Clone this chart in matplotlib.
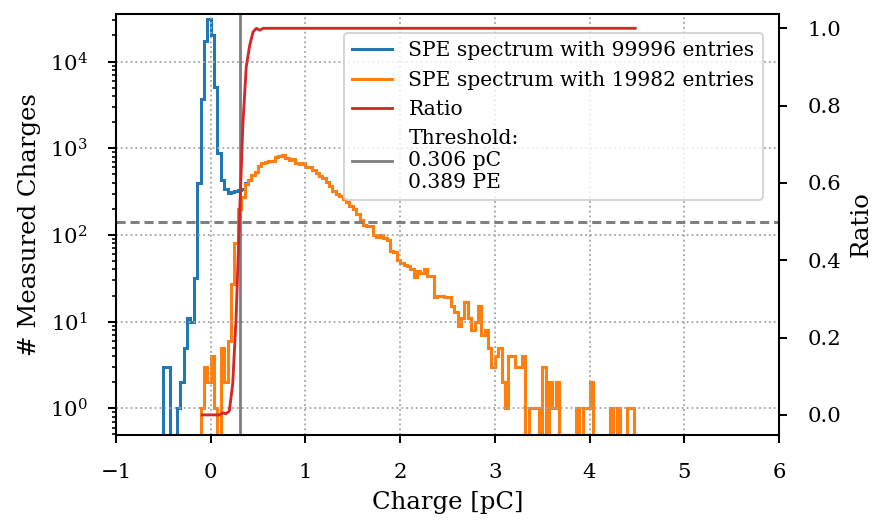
import numpy as np
import matplotlib
matplotlib.use("Agg")
import matplotlib.pyplot as plt

plt.rcParams['font.family'] = 'serif'
plt.rcParams['font.serif'] = ['DejaVu Serif']
plt.rcParams['mathtext.fontset'] = 'dejavuserif'

# histogram binning: 140 bins between -0.5 and 4.5 pC
bin_edges = np.linspace(-0.5, 4.5, 141)

# blue spectrum below threshold region (bins 0..24), above it equals the orange one
blue_low = [3, 3, 0, 0, 1, 2, 5, 11, 10, 32,
            395, 3675, 17400, 31000, 20300, 5140, 890, 430, 336, 305,
            315, 322, 330, 335, 400]

orange_counts = [0, 0, 0, 0, 0, 0, 0, 0, 0, 0,
                 0, 1, 3, 2, 4, 1, 0, 5, 2, 6,
                 27, 81, 199, 276, 385, 432, 492, 536, 625, 675,
                 700, 718, 715, 800, 815, 842, 765, 730, 760, 680,
                 650, 675, 613, 600, 560, 515, 480, 450, 410, 370,
                 325, 295, 278, 262, 240, 215, 197, 175, 150, 130,
                 127, 127, 100, 95, 100, 91, 88, 65, 64, 51,
                 47, 45, 44, 40, 33, 38, 36, 41, 34, 34,
                 19, 20, 20, 19, 19, 15, 13, 9, 11, 17,
                 11, 8, 10, 15, 7, 8, 5, 3, 4, 5,
                 2, 1, 4, 4, 3, 3, 4, 0, 1, 1,
                 1, 0, 3, 0, 2, 1, 2, 0, 0, 0,
                 0, 0, 1, 0, 1, 1, 2, 0, 0, 0,
                 0, 0, 1, 0, 1, 0, 0, 1, 1, 0]

# ratio curve, starting at bin 11
ratio_values = [0.0, 0.0, 0.0, 0.0, 0.0, 0.0, 0.005, 0.003, 0.01, 0.08,
                0.25, 0.51, 0.75, 0.90, 0.955, 0.99, 1.0, 0.995, 1.0, 1.0,
                1.0, 1.0, 1.0, 1.0, 1.0, 1.0, 1.0, 1.0, 1.0, 1.0,
                1.0, 1.0, 1.0, 1.0, 1.0, 1.0, 1.0, 1.0, 1.0, 1.0,
                1.0, 1.0, 1.0, 1.0, 1.0, 1.0, 1.0, 1.0, 1.0, 1.0,
                1.0, 1.0, 1.0, 1.0, 1.0, 1.0, 1.0, 1.0, 1.0, 1.0,
                1.0, 1.0, 1.0, 1.0, 1.0, 1.0, 1.0, 1.0, 1.0, 1.0,
                1.0, 1.0, 1.0, 1.0, 1.0, 1.0, 1.0, 1.0, 1.0, 1.0,
                1.0, 1.0, 1.0, 1.0, 1.0, 1.0, 1.0, 1.0, 1.0, 1.0,
                1.0, 1.0, 1.0, 1.0, 1.0, 1.0, 1.0, 1.0, 1.0, 1.0,
                1.0, 1.0, 1.0, 1.0, 1.0, 1.0, 1.0, 1.0, 1.0, 1.0,
                1.0, 1.0, 1.0, 1.0, 1.0, 1.0, 1.0, 1.0, 1.0, 1.0,
                1.0, 1.0, 1.0, 1.0, 1.0, 1.0, 1.0, 1.0, 1.0]
ratio_start_bin = 11

threshold_pc = 0.306
threshold_pe = 0.389
n_blue = 99996
n_orange = 19982

blue_counts = np.array(orange_counts, dtype=float)
blue_counts[:len(blue_low)] = blue_low
orange_counts = np.array(orange_counts, dtype=float)
bin_centers = 0.5 * (bin_edges[1:] + bin_edges[:-1])

dpi = 146
fig = plt.figure(figsize=(877 / dpi, 525 / dpi), dpi=dpi)
ax = fig.add_axes([116 / 877, 90 / 525, 663 / 877, 421 / 525])
ax2 = ax.twinx()

h_blue = ax.stairs(blue_counts, bin_edges, color='tab:blue', lw=1.5,
                   label=f"SPE spectrum with {n_blue} entries")
h_orange = ax.stairs(orange_counts, bin_edges, color='tab:orange', lw=1.5,
                     label=f"SPE spectrum with {n_orange} entries")
h_thr = ax.axvline(threshold_pc, color='gray', lw=1.4,
                   label=f"Threshold:\n{threshold_pc:.3f} pC\n{threshold_pe:.3f} PE")
ax.set_yscale('log')
ax.set_xlim(-1, 6)
ax.set_ylim(0.492, 35400)
ax.grid(True, which='major', ls=':', color='0.65', lw=0.9)
ax.set_xlabel("Charge [pC]", fontsize=12)
ax.set_ylabel("# Measured Charges", fontsize=12)

h_ratio, = ax2.plot(bin_centers[ratio_start_bin:], ratio_values, color='tab:red', lw=1.4,
                    label="Ratio")
ax2.axhline(0.5, color='gray', ls=(0, (3.0, 1.6)), lw=1.5)
ax2.set_ylim(-0.052, 1.037)
ax2.set_ylabel("Ratio", fontsize=12)

for a in (ax, ax2):
    a.tick_params(axis='both', which='major', length=4, width=1.0, pad=10,
                  labelsize=10.5)
    a.tick_params(axis='both', which='minor', length=2.2, width=0.8)
    for sp in a.spines.values():
        sp.set_linewidth(1.0)

ax2.legend(handles=[h_blue, h_orange, h_ratio, h_thr], loc='upper right',
           bbox_to_anchor=(0.9754, 0.954), borderaxespad=0)

fig.savefig("out.png", dpi=dpi)
